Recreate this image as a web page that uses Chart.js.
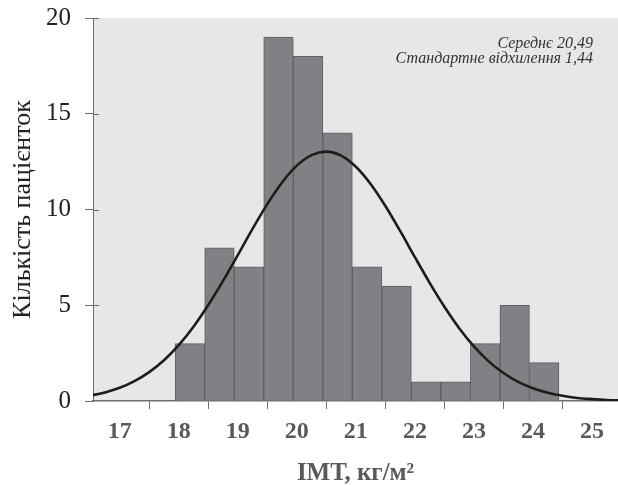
<!DOCTYPE html>
<html><head><meta charset="utf-8">
<script src="https://cdn.jsdelivr.net/npm/chart.js@4.4.1/dist/chart.umd.min.js"></script>
<style>html,body{margin:0;padding:0;background:#fff}#wrap{width:618px;height:485px;position:relative}</style>
</head><body><div id="wrap"><canvas id="c"></canvas></div>
<script>
// Histogram bins (centres, width 0.5) and patient counts
const binCenters = [18.19, 18.69, 19.19, 19.69, 20.19, 20.69, 21.19, 21.69, 22.19, 22.69, 23.19, 23.69, 24.19];
const counts     = [3, 8, 7, 19, 18, 14, 7, 6, 1, 1, 3, 5, 2];
// Fitted normal curve
const curveX = [16.5,16.75,17,17.25,17.5,17.75,18,18.25,18.5,18.75,19,19.25,19.5,19.75,20,20.25,20.5,20.75,21,21.25,21.5,21.75,22,22.25,22.5,22.75,23,23.25,23.5,23.75,24,24.25,24.5,24.75,25,25.25,25.5];
const curveY = [0.28,0.45,0.69,1.04,1.51,2.13,2.92,3.88,5.01,6.27,7.62,8.99,10.28,11.41,12.29,12.84,13.02,12.81,12.23,11.33,10.18,8.88,7.51,6.17,4.92,3.80,2.85,2.07,1.46,1.00,0.67,0.43,0.27,0.16,0.10,0.055,0.03];
const xTicks = [17, 18, 19, 20, 21, 22, 23, 24, 25];
const yTicks = [0, 5, 10, 15, 20];
const statsLines = ['Середнє 20,49', 'Стандартне відхилення 1,44'];
const xTitle = 'ІМТ, кг/м²';
const yTitle = 'Кількість пацієнток';

const serif = '"Liberation Serif", "DejaVu Serif", serif';
const axisColor = '#6d6e71';

const bgPlugin = {
  id: 'plotBg',
  beforeDraw(chart) {
    const {ctx, chartArea: a} = chart;
    ctx.save();
    ctx.fillStyle = '#e6e7e8';
    ctx.fillRect(a.left, a.top, a.right - a.left, a.bottom - a.top);
    ctx.restore();
  },
  afterDraw(chart) {
    // inner part of the y tick marks (they cross the axis line)
    const {ctx, chartArea: a, scales} = chart;
    ctx.save();
    ctx.strokeStyle = axisColor;
    ctx.lineWidth = 1;
    yTicks.forEach(v => {
      if (v === 0) return;
      const y = Math.round(scales.y.getPixelForValue(v)) + 0.5;
      ctx.beginPath();
      ctx.moveTo(a.left, y);
      ctx.lineTo(a.left + 6, y);
      ctx.stroke();
    });
    ctx.restore();
  }
};
const statsPlugin = {
  id: 'stats',
  afterDatasetsDraw(chart) {
    const {ctx} = chart;
    ctx.save();
    ctx.font = 'italic 16px ' + serif;
    ctx.fillStyle = '#333333';
    ctx.textAlign = 'right';
    ctx.textBaseline = 'alphabetic';
    statsLines.forEach((t, i) => ctx.fillText(t, 593, 47.5 + i * 15));
    ctx.restore();
  }
};

new Chart(document.getElementById('c'), {
  type: 'bar',
  data: {
    datasets: [
      {
        type: 'line',
        data: curveX.map((x, i) => ({x, y: curveY[i]})),
        borderColor: '#1d1d1b',
        borderWidth: 2.6,
        pointRadius: 0,
        tension: 0.4,
        cubicInterpolationMode: 'monotone',
        order: 0
      },
      {
        type: 'bar',
        data: binCenters.map((x, i) => ({x, y: counts[i]})),
        backgroundColor: '#808184',
        borderColor: '#5e5f62',
        borderWidth: 1,
        barPercentage: 1,
        categoryPercentage: 1,
        order: 1
      }
    ]
  },
  options: {
    responsive: true,
    maintainAspectRatio: false,
    animation: false,
    devicePixelRatio: 1,
    layout: {padding: {top: 18, right: 0, left: 0, bottom: 0}},
    plugins: {legend: {display: false}, tooltip: {enabled: false}},
    scales: {
      x: {
        type: 'linear',
        offset: false,
        min: 16.548,
        max: 25.44,
        afterBuildTicks: s => { s.ticks = xTicks.map(v => ({value: v})); },
        afterFit: s => { s.height = 84; s.paddingLeft = 0; s.paddingRight = 0; },
        grid: {display: true, drawOnChartArea: false, drawTicks: true, tickLength: 8, color: axisColor, tickWidth: 1},
        border: {display: true, color: axisColor, width: 1.5},
        ticks: {
          autoSkip: false, maxRotation: 0, padding: 8,
          color: '#58595b',
          font: {family: serif, size: 24, weight: 'bold'}
        },
        title: {
          display: true, text: xTitle, color: '#58595b',
          font: {family: serif, size: 25, weight: 'bold', lineHeight: 0.9},
          padding: {top: 0, bottom: 0}
        }
      },
      y: {
        min: 0, max: 20,
        afterBuildTicks: s => { s.ticks = yTicks.map(v => ({value: v})); },
        afterFit: s => { s.width = 93; s.paddingTop = 0; s.paddingBottom = 0; },
        grid: {display: true, drawOnChartArea: false, drawTicks: true, tickLength: 8, color: axisColor},
        border: {display: true, color: axisColor, width: 1},
        ticks: {
          padding: 14, color: '#222222',
          font: {family: serif, size: 25}
        },
        title: {
          display: true, text: yTitle, color: '#222222',
          font: {family: serif, size: 26, lineHeight: 1.2},
          padding: {top: 8, bottom: 0}
        }
      }
    }
  },
  plugins: [bgPlugin, statsPlugin]
});
</script>
</body></html>
